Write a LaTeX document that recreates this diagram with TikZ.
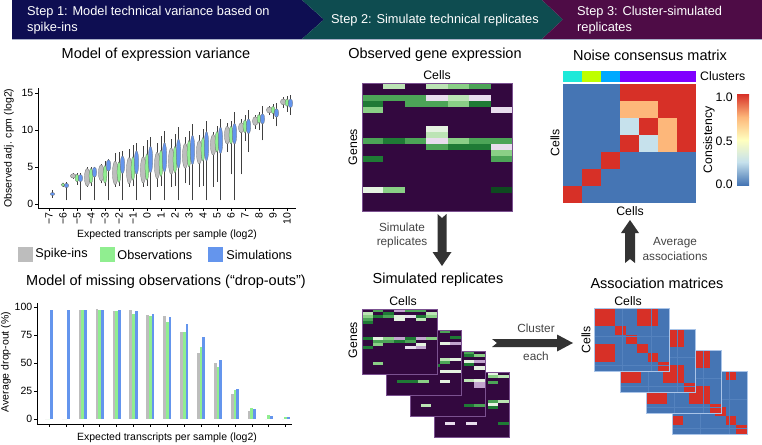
\documentclass[tikz,border=0pt]{standalone}
\usepackage{fontspec}
\setmainfont{Liberation Sans}
\usetikzlibrary{calc,positioning}
\definecolor{navyband}{RGB}{14,14,82}
\definecolor{tealband}{RGB}{14,76,80}
\definecolor{plumband}{RGB}{78,12,70}
\definecolor{bandline}{HTML}{A9B0C8}
\definecolor{spikegray}{HTML}{BDBDBD}
\definecolor{obsgreen}{HTML}{90EE90}
\definecolor{simblue}{HTML}{6495ED}
\definecolor{hmdark}{HTML}{33083F}
\definecolor{hmborder}{HTML}{7B5190}
\definecolor{hgA}{HTML}{1F7A35}
\definecolor{hgB}{HTML}{4CA457}
\definecolor{hgC}{HTML}{8ACF86}
\definecolor{hgD}{HTML}{BCE4B5}
\definecolor{hgE}{HTML}{E5F2E1}
\definecolor{hgX}{HTML}{0E4A20}
\definecolor{hlvA}{HTML}{E8DDED}
\definecolor{hlvB}{HTML}{C2A5CF}
\definecolor{assocblue}{HTML}{4575B4}
\definecolor{assocred}{HTML}{D73027}
\definecolor{assocgrid}{HTML}{5482BE}
\definecolor{assocedge}{HTML}{A9C4E8}
\definecolor{consorange}{HTML}{FDB77A}
\definecolor{conslight}{HTML}{C6E1EC}
\definecolor{consyellow}{HTML}{FFFFBF}
\definecolor{clcyan}{HTML}{1DE9D9}
\definecolor{cllime}{HTML}{BFFF00}
\definecolor{clsky}{HTML}{00A9FF}
\definecolor{clviolet}{HTML}{8000FF}
\definecolor{arrowgray}{HTML}{333333}
\definecolor{arrowtxt}{HTML}{444444}

\begin{document}
\begin{tikzpicture}[x=1pt,y=-1pt]
\tikzset{paneltitle/.style={font=\fontsize{14.5}{17}\selectfont},
  sublab/.style={font=\fontsize{12.3}{14}\selectfont},
  ticklab/.style={font=\fontsize{10.5}{12}\selectfont,inner sep=1.5pt},
  axislab/.style={font=\fontsize{10.5}{12}\selectfont},
  steptext/.style={text=white,font=\fontsize{12.8}{16}\selectfont,align=left,anchor=west,inner sep=0pt},
  arrowtext/.style={text=arrowtxt,font=\fontsize{11.8}{14.5}\selectfont,align=center},
  legbox/.style={minimum size=15pt,inner sep=0pt},
  legtext/.style={font=\fontsize{12.7}{15}\selectfont,inner sep=0pt},
  axisline/.style={line width=0.8pt,black},
  tickline/.style={line width=0.5pt,black},
  vline/.style={line width=0.35pt,black!75},
  vbody/.style={draw=black!60,line width=0.25pt},
  bigarrow/.style={fill=arrowgray}}
\useasboundingbox (0,0) rectangle (762,444);

% steps banner
\fill[navyband] (12,0) -- (302,0) -- (324,19.5) -- (302,39) -- (12,39) -- cycle;
\fill[tealband] (302,0) -- (542,0) -- (563,19.5) -- (542,39) -- (302,39) -- (324,19.5) -- cycle;
\fill[plumband] (542,0) -- (762,0) -- (762,39) -- (542,39) -- (563,19.5) -- cycle;
\draw[bandline,line width=0.8pt] (12,39.6) -- (762,39.6);
\node[steptext] (step1) at (27,20) {Step 1: Model technical variance based on\\spike-ins};
\node[steptext] (step2) at (331,20) {Step 2: Simulate technical replicates};
\node[steptext] (step3) at (577,20) {Step 3: Cluster-simulated\\replicates};

% expression variance
\node[paneltitle] (vartitle) at (156,55) {Model of expression variance};
\node[axislab,rotate=90] (varylab) at (9,148) {Observed adj. cpm (log2)};
\node[axislab] (varxlab) at (167,235) {Expected transcripts per sample (log2)};
\draw[axisline] (38,88) -- (38,208) -- (296,208);
\begin{scope}[shift={(147,204)},x=14pt,y=7.4pt]
  \foreach \v in {0,5,10,15}
    \draw[tickline] (-7.79,\v) -- ++(-3pt,0) node[ticklab,left] {\v};
  \foreach \k in {-7,...,10}
    \draw[tickline] (\k,-0.54) -- ++(0,-3pt) node[ticklab,rotate=90,anchor=east] {\ifnum\k<0 −\the\numexpr-\k\relax\else\k\fi};
  \foreach \k/\lo/\hi/\c/\h in {-5/3.4/4.2/3.8/0.3, -4/2.3/5/3.6/1.2, -3/2.8/5.4/4.2/1.1, -2/2.3/6.9/4.2/1.6,
      -1/2.3/7.5/4.5/1.8, 0/2.3/7.8/4.6/1.8, 1/2.3/8.2/5.2/1.8, 2/2.3/8.8/5.8/1.8, 3/2.8/9/6.5/1.7,
      4/2.3/9.3/7/1.6, 5/2.3/9.7/8/1.4, 6/7/11/9.3/1.2, 7/4/11.5/10.3/0.7, 8/10.2/12/11.2/0.6,
      9/12/13.3/12.7/0.4, 10/13/14.5/13.8/0.4}
  {\draw[vline] (\k-0.27,\lo) -- (\k-0.27,\hi);
   \filldraw[vbody,fill=spikegray] (\k-0.27,\c) ellipse [x radius=0.2,y radius=\h];}
  \foreach \k/\lo/\hi/\c/\h in {-6/2.3/2.8/2.6/0.25, -5/2.6/4.2/3.5/0.5, -4/2.4/5/3.8/1, -3/2.5/5.8/4/1.2,
      -2/2.4/7/4.3/1.4, -1/2.4/8/4.8/1.6, 0/2.4/8.6/5/1.8, 1/2.4/9.2/5.5/1.8, 2/2.4/9.5/6/1.8,
      3/2.6/9.8/6.8/1.8, 4/2.4/10.2/7.4/1.6, 5/3/10.5/8.4/1.4, 6/4/11.2/9.3/1.2, 7/8.5/12/10.5/0.9,
      8/10/12.5/11.5/0.6, 9/11.5/13.5/12.7/0.5, 10/12.5/14.6/13.7/0.5}
  {\draw[vline] (\k,\lo) -- (\k,\hi);
   \filldraw[vbody,fill=obsgreen] (\k,\c) ellipse [x radius=0.14,y radius=\h];}
  \foreach \k/\lo/\hi/\c/\h in {-7/0.8/1.9/1.35/0.2, -6/0.5/3/2.5/0.3, -5/0.5/4.2/3.5/0.5, -4/0.5/5/4.3/0.7,
      -3/0.5/6.1/5.2/0.8, -2/0.5/7.2/5.3/1.2, -1/0.5/8.2/5.6/1.6, 0/0.5/9/6/1.8, 1/0.5/9.8/6.3/2,
      2/0.5/10.4/6.8/2, 3/0.5/10.8/7.3/2, 4/0.5/11.2/7.8/2, 5/0.5/11.5/8.6/1.8, 6/0.5/12.4/9.5/1.4,
      7/7/12.7/10.5/1, 8/8.6/13.2/11.5/0.7, 9/10.5/13.6/12.3/0.6, 10/12/14.7/13.6/0.6}
  {\draw[vline] (\k+0.25,\lo) -- (\k+0.25,\hi);
   \filldraw[vbody,fill=simblue] (\k+0.25,\c) ellipse [x radius=0.16,y radius=\h];}
\end{scope}

% legend
\node[legbox,fill=spikegray] (boxspike) at (25.5,254.5) {};
\node[legtext,right=2pt of boxspike] (txtspike) {Spike-ins};
\node[legbox,fill=obsgreen] (boxobs) at (107.5,254.5) {};
\node[legtext,right=2pt of boxobs] (txtobs) {Observations};
\node[legbox,fill=simblue] (boxsim) at (215.5,254.5) {};
\node[legtext,right=3pt of boxsim] (txtsim) {Simulations};

% drop-outs
\node[paneltitle] (droptitle) at (166,282) {Model of missing observations (“drop-outs”)};
\node[axislab,rotate=90] (dropylab) at (6,362) {Average drop-out (\%)};
\node[axislab] (dropxlab) at (167,438) {Expected transcripts per sample (log2)};
\draw[axisline] (37,303) -- (37,424) -- (292,424);
\begin{scope}[shift={(49,419)},x=16.9pt,y=1.12pt]
  \foreach \v in {0,25,50,75,100}
    \draw[tickline] (-0.71,\v) -- ++(-3pt,0) node[ticklab,left] {\v};
  \foreach \i in {0,...,14}
    \draw[tickline] (\i,-4.46) -- ++(0,-3pt);
  \foreach \i/\a/\b/\c in {0/0/0/97, 1/0/0/97, 2/97/97/97, 3/98/97/97, 4/96/96/97, 5/97/94/96,
      6/93/92/94, 7/92/87/91, 8/78/78/85, 9/59/64/73, 10/50/46/53, 11/22/26/27, 12/7/10/9,
      13/0/4/3, 14/0/2/2}
  {\fill[spikegray] (\i-0.24,0) rectangle (\i-0.08,\a);
   \fill[obsgreen] (\i-0.08,0) rectangle (\i+0.08,\b);
   \fill[simblue] (\i+0.08,0) rectangle (\i+0.24,\c);}
\end{scope}

% observed gene expression
\node[paneltitle] (obstitle) at (435,55) {Observed gene expression};
\node[sublab] (obscells) at (437,75) {Cells};
\node[sublab,rotate=90] (obsgenes) at (353,147) {Genes};
\begin{scope}[shift={(362,83)},x=21.43pt,y=-6.095pt]
  \fill[hmdark] (0,0) rectangle (7,21);
  \foreach \c/\r/\col in {1/0/hgD, 3/0/hgD, 4/0/hgC, 5/0/hgB,
      0/2/hgB, 1/2/hgB, 2/2/hgB, 3/2/hlvA, 4/2/hgD, 5/2/hlvA,
      0/3/hgA, 2/3/hgB, 3/3/hgB, 4/3/hgC, 5/3/hgA, 0/4/hgC, 6/4/hlvA,
      3/7/hgE, 3/8/hgD,
      0/9/hgB, 1/9/hgA, 2/9/hgB, 3/9/hlvA, 4/9/hgC, 5/9/hgB, 6/9/hgB,
      3/10/hgB, 4/10/hgA, 5/10/hgA, 6/10/hlvA, 6/11/hgC, 0/12/hgA, 6/12/hgB,
      0/17/hgE, 1/17/hgC, 6/17/hgX}
    \fill[\col] (\c,\r) rectangle ++(1,1);
  \draw[hmborder,line width=0.5pt] (0,0) rectangle (7,21);
\end{scope}

% simulated replicates
\node[paneltitle] (simtitle) at (438,280) {Simulated replicates};
\node[sublab] (simcells) at (403,301) {Cells};
\node[sublab,rotate=90] (simgenes) at (353,340) {Genes};
\foreach \f/\cells in {
    3/{5/0/hgE, 5/1/hgC, 6/1/hgD, 5/3/hgB, 5/9/hgB, 6/9/hgD, 5/10/hgE, 5/11/hgA, 1/16/hlvA, 3/16/hlvA, 6/16/hgA},
    2/{5/0/hgB, 5/1/hgA, 6/1/hgC, 5/3/hgE, 6/3/hlvB, 5/4/hgA, 6/5/hgE, 5/9/hgD, 6/9/hgE, 6/10/hlvB, 6/11/hlvB, 1/17/hgD, 5/17/hgA, 6/17/hgB},
    1/{5/0/hgB, 6/2/hgA, 5/4/hgE, 6/4/hlvB, 5/9/hgD, 6/9/hgE, 5/10/hgB, 4/11/hgA, 5/13/hgE, 6/13/hgE, 1/16/hgA, 2/16/hgA, 3/16/hgC, 5/16/hgE},
    0/{1/0/hgB, 3/0/hlvB, 4/0/hgB, 5/0/hgB, 0/1/hgD, 2/1/hgA, 6/1/hgD, 0/2/hgC, 1/2/hgA, 2/2/hgB, 3/2/hgE, 4/2/hlvA, 5/2/hgA, 6/2/hgC,
       0/3/hgB, 3/3/hgE, 5/3/hgD, 0/4/hgA, 0/9/hgA, 1/9/hgE, 2/9/hgC, 3/9/hlvB, 4/9/hgA, 5/9/hlvB, 6/9/hgC,
       1/10/hgB, 2/10/hgB, 3/10/hgA, 4/10/hgB, 1/11/hgC, 5/11/hgE, 0/12/hgA, 4/12/hlvA, 5/12/hlvB, 1/17/hgC}}
{\begin{scope}[shift={(362+24*\f,309+21*\f)},x=10.714pt,y=-3.095pt]
   \fill[hmdark] (0,0) rectangle (7,21);
   \foreach \c/\r/\col in \cells
     \fill[\col] (\c,\r) rectangle ++(1,1);
   \draw[hmborder,line width=0.5pt] (0,0) rectangle (7,21);
 \end{scope}}

% association matrices
\node[paneltitle] (assoctitle) at (657,283) {Association matrices};
\node[sublab] (assoccells) at (628,301) {Cells};
\node[sublab,rotate=90] (assoccellsy) at (586,340) {Cells};
\foreach \f/\cells in {
    3/{0/0, 5/0, 0/5, 1/1, 2/2, 3/2, 2/3, 3/3, 4/4, 5/5, 6/6},
    2/{0/0, 1/0, 0/1, 1/1, 4/0, 5/0, 4/1, 5/1, 0/4, 1/4, 0/5, 1/5, 4/4, 5/4, 4/5, 5/5, 2/2, 3/3, 6/6},
    1/{0/0, 1/0, 0/1, 1/1, 4/0, 5/0, 4/1, 5/1, 0/4, 1/4, 0/5, 1/5, 4/4, 5/4, 4/5, 5/5, 2/2, 3/3, 6/6},
    0/{0/0, 1/0, 0/1, 1/1, 4/0, 5/0, 4/1, 5/1, 0/4, 1/4, 0/5, 1/5, 2/2, 3/3, 4/4, 5/5, 6/6}}
{\begin{scope}[shift={(594+26*\f,308+21*\f)},x=10.714pt,y=-9pt]
   \fill[assocblue] (0,0) rectangle (7,7);
   \foreach \c/\r in \cells
     \fill[assocred] (\c,\r) rectangle ++(1,1);
   \draw[assocgrid,line width=0.2pt] (0,0) grid (7,7);
   \draw[assocedge,line width=0.6pt] (0,0) rectangle (7,7);
 \end{scope}}

% noise consensus matrix
\node[paneltitle] (constitle) at (650,55) {Noise consensus matrix};
\begin{scope}[shift={(563,71)},x=19pt,y=-11pt]
  \fill[clcyan] (0,0) rectangle (1,1);
  \fill[cllime] (1,0) rectangle (2,1);
  \fill[clsky] (2,0) rectangle (3,1);
  \fill[clviolet] (3,0) rectangle (7,1);
\end{scope}
\node[sublab,anchor=west,inner sep=0pt] (clusterlab) at (700,76) {Clusters};
\begin{scope}[shift={(563,84)},x=19pt,y=-17pt]
  \fill[assocblue] (0,0) rectangle (7,7);
  \foreach \c/\r/\col in {3/0/assocred, 4/0/assocred, 5/0/assocred, 6/0/assocred,
      3/1/consorange, 4/1/consorange, 5/1/assocred, 6/1/assocred,
      3/2/conslight, 4/2/assocred, 5/2/consorange, 6/2/assocred,
      3/3/assocred, 4/3/conslight, 5/3/consorange, 6/3/assocred,
      2/4/assocred, 1/5/assocred, 0/6/assocred}
    \fill[\col] (\c,\r) rectangle ++(1,1);
\end{scope}
\node[sublab,rotate=90] (conscellsy) at (555,143) {Cells};
\node[sublab] (conscellsx) at (630,211) {Cells};
\shade[top color=assocred,bottom color=consorange] (737,94) rectangle (749,117);
\shade[top color=consorange,bottom color=consyellow] (737,117) rectangle (749,140);
\shade[top color=consyellow,bottom color=conslight] (737,140) rectangle (749,162);
\shade[top color=conslight,bottom color=assocblue] (737,162) rectangle (749,185);
\node[sublab,anchor=east,inner sep=0pt] (cbhigh) at (733,97) {1.0};
\node[sublab,anchor=east,inner sep=0pt] (cbmid) at (733,141) {0.5};
\node[sublab,anchor=east,inner sep=0pt] (cblow) at (733,184) {0.0};
\node[sublab,rotate=90] (consist) at (709,140) {Consistency};

% arrows
\coordinate (simtail) at (442,214);
\coordinate (simtip) at (442,266);
\fill[bigarrow] (simtail) ++(-4.5,0) -- ++(4.5,4) -- ++(4.5,-4) -- ($(simtip)+(4.5,-14)$) -- ++(5,0)
  -- (simtip) -- ++(-9.5,-14) -- ++(5,0) -- cycle;
\node[arrowtext] (simlab) at (402,235.5) {Simulate\\replicates};
\coordinate (clustail) at (492,343);
\coordinate (clustip) at (573,343);
\fill[bigarrow] (clustail) ++(0,-4) -- ++(5,4) -- ++(-5,4) -- ($(clustip)+(-16,4)$) -- ++(0,4.5)
  -- (clustip) -- ++(-16,-8.5) -- ++(0,4.5) -- cycle;
\node[arrowtext] (cluslab) at (536,328) {Cluster};
\node[arrowtext] (eachlab) at (536,356) {each};
\coordinate (avgtail) at (630,263);
\coordinate (avgtip) at (630,220);
\fill[bigarrow] (avgtail) ++(5,0) -- ++(-5,-4) -- ++(-5,4) -- ($(avgtip)+(-5,13)$) -- ++(-4,0)
  -- (avgtip) -- ++(9,13) -- ++(-4,0) -- cycle;
\node[arrowtext] (avglab) at (675,249) {Average\\associations};
\end{tikzpicture}
\end{document}
